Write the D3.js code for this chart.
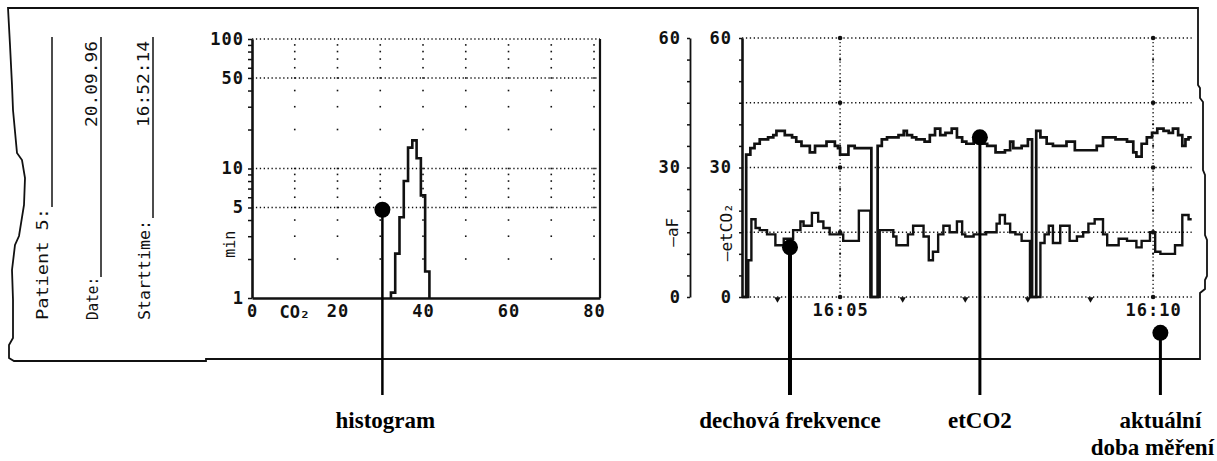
<!DOCTYPE html>
<html>
<head>
<meta charset="utf-8">
<script src="https://cdn.jsdelivr.net/npm/d3@7"></script>
<style>
  body { margin: 0; background: #fff; }
  svg { display: block; }
</style>
</head>
<body>
<script>
// histogram: CO2 bins (mmHg, bin centres) -> minutes (log axis)
var histBins    = [33, 34, 35, 36, 37, 38, 39, 40, 41];
var histMinutes = [1.1, 2.2, 4.2, 8, 14.5, 16.5, 12, 6.2, 1.6];
var histXTicks  = [0, 20, 40, 60, 80];
var histYTicks  = [1, 5, 10, 50, 100];
var histGridY   = [5, 10, 50, 100];
var histGridX   = [10, 20, 30, 40, 50, 60, 70, 80];

// trend: etCO2 (upper) and breathing frequency aF (lower), step values
var etco2Times  = ["16:03:26","16:03:30","16:03:34","16:03:38","16:03:43","16:03:51","16:03:56","16:03:59",
                   "16:04:07","16:04:14","16:04:18","16:04:23","16:04:31","16:04:36","16:04:47","16:04:55","16:04:58",
                   "16:05:00","16:05:08","16:05:14","16:05:30","16:05:36","16:05:40","16:05:45","16:05:56",
                   "16:06:01","16:06:04","16:06:09","16:06:13","16:06:21","16:06:26","16:06:31","16:06:36","16:06:41","16:06:47","16:06:52","16:06:57",
                   "16:07:01","16:07:08","16:07:16","16:07:21","16:07:29","16:07:38","16:07:43","16:07:46","16:07:54",
                   "16:08:00","16:08:04","16:08:08","16:08:12","16:08:18","16:08:24","16:08:37","16:08:45",
                   "16:09:06","16:09:12","16:09:24","16:09:35","16:09:41","16:09:44","16:09:49","16:09:54","16:09:59",
                   "16:10:04","16:10:10","16:10:15","16:10:19","16:10:24","16:10:28","16:10:31","16:10:34"];
var etco2Values = [0, 33, 34.5, 35.5, 36.5, 37, 37.5, 38.5,
                   37.5, 37, 36, 35, 33.5, 35, 36, 35, 34.5,
                   33, 35, 34.5, 0, 35, 36.5, 37, 37.5,
                   38.5, 37.5, 37, 36.5, 36, 37.5, 39, 37.5, 38, 39, 37, 36,
                   35.5, 37, 35.5, 35, 33.5, 34, 36, 34.5, 35,
                   36.5, 0, 38.5, 37, 35.5, 35, 36, 34,
                   35, 37, 36.5, 36, 33.5, 32.5, 35.5, 37, 38,
                   39, 38.5, 38, 39, 37.5, 35, 36.5, 37];

var afTimes  = ["16:03:26","16:03:32","16:03:35","16:03:39","16:03:43","16:03:50","16:03:58",
                "16:04:06","16:04:15","16:04:22","16:04:25","16:04:33","16:04:39","16:04:44","16:04:50",
                "16:05:03","16:05:18","16:05:29","16:05:38","16:05:51","16:05:54",
                "16:06:05","16:06:10","16:06:20","16:06:25","16:06:29","16:06:34","16:06:39","16:06:45","16:06:52","16:06:57",
                "16:07:00","16:07:08","16:07:20","16:07:30","16:07:33","16:07:38","16:07:43","16:07:48","16:07:54",
                "16:08:02","16:08:12","16:08:16","16:08:20","16:08:24","16:08:31","16:08:40","16:08:47","16:08:53","16:08:58",
                "16:09:04","16:09:12","16:09:16","16:09:27","16:09:35","16:09:44","16:09:49","16:09:57",
                "16:10:02","16:10:07","16:10:21","16:10:28","16:10:34"];
var afValues = [0, 8.5, 18, 16, 15.5, 14.5, 12,
                13.5, 15.5, 17.5, 16.5, 19.5, 17.5, 16, 14.5,
                13, 20, 0, 15.5, 14, 12,
                14.5, 16.5, 14, 8.5, 10.5, 14.5, 16.5, 15, 17.5, 14.5,
                14, 14.5, 15, 17, 19, 17, 15, 14.5, 13,
                0, 12.5, 14.5, 16.5, 12.5, 16.5, 13, 14, 15, 17,
                18, 14.5, 12, 13.5, 13, 11.5, 13, 15,
                10.5, 10, 12, 19, 18];

var trendStart   = "16:03:26";
var trendEnd     = "16:10:37";
var trendYTicks  = [0, 30, 60];
var trendGridY   = [0, 15, 30, 45, 60];
var timeLabels   = ["16:05", "16:10"];
var minuteMarks  = ["16:04", "16:06", "16:07", "16:08", "16:09"];

// header strip
var headerLabels = ["Patient 5:", "Date:", "Starttime:"];
var headerValues = ["", "20.09.96", "16:52:14"];

// callouts
var noteLabels = [["histogram"], ["dechová frekvence"], ["etCO2"], ["aktuální", "doba měření"]];

var W = 1217, H = 461;
var mono = "'DejaVu Sans Mono', monospace";
var ink = "#111";

var svg = d3.select("body").append("svg").attr("width", W).attr("height", H);

// ---- paper outline ----
var paper = "M8,8 L1198,8 L1198,85 L1200,88 L1200,98 L1203,102 L1203,170 L1205,175 L1205,235 L1207,240 L1207,276 " +
            "L1205,280 L1205,289 L1200,293 L1200,359 L206,359 L206,361 L14,361 L9,358 L9,345 L13,338 L13,300 L12,270 " +
            "L15,245 L19,236 L24,205 L25,178 L22,160 L17,153 L13,110 L12,85 L10,45 L8,8 Z";
svg.append("path").attr("d", paper).attr("fill", "none").attr("stroke", ink).attr("stroke-width", 1.8);

// ---- header strip (rotated) ----
var headerX = [48, 98, 150];
var lineX = [52, 101, 153];
var lineTop = 37, lineBottom = [207, 277, 218];
headerLabels.forEach(function (t, i) {
    svg.append("text")
        .attr("transform", "translate(" + headerX[i] + ",320) rotate(-90)")
        .attr("font-family", mono).attr("font-size", 16).attr("fill", ink)
        .attr("textLength", [112, 43, 100][i]).attr("lengthAdjust", "spacingAndGlyphs")
        .text(t);
    svg.append("line")
        .attr("x1", lineX[i]).attr("x2", lineX[i])
        .attr("y1", lineTop).attr("y2", lineBottom[i])
        .attr("stroke", ink).attr("stroke-width", 1.5);
    if (headerValues[i]) {
        svg.append("text")
            .attr("transform", "translate(" + (headerX[i] - 1) + ",127) rotate(-90)")
            .attr("font-family", mono).attr("font-size", 15).attr("fill", ink)
            .attr("textLength", 86).attr("lengthAdjust", "spacingAndGlyphs")
            .text(headerValues[i]);
    }
});

function dotted(sel) {
    return sel.attr("stroke", ink).attr("stroke-width", 1.3).attr("stroke-dasharray", "1.3 2.6");
}
function styleAxis(g, width) {
    g.select(".domain").attr("stroke", ink).attr("stroke-width", width);
    g.selectAll(".tick line").attr("stroke", ink).attr("stroke-width", 1.5);
    g.selectAll("text").attr("font-family", mono).attr("font-size", 17).attr("font-weight", "bold")
        .attr("letter-spacing", 1).attr("fill", ink);
}

// ---- histogram ----
var xH = d3.scaleLinear().domain([0, 81.4]).range([252, 600]);
var yH = d3.scaleLog().domain([1, 100]).range([298, 39]);

var hist = svg.append("g");

histGridY.forEach(function (v) {
    dotted(hist.append("line").attr("x1", xH(0)).attr("x2", xH(81.4)).attr("y1", yH(v)).attr("y2", yH(v)));
});
// vertical grid is printed as dots at the minor log positions
var dots = [];
histGridX.forEach(function (x) {
    yH.ticks().forEach(function (v) { if (v > 1 && v < 100) dots.push([x, v]); });
});
hist.selectAll("rect.gdot").data(dots).enter().append("rect")
    .attr("class", "gdot")
    .attr("x", function (d) { return xH(d[0]) - 0.8; })
    .attr("y", function (d) { return yH(d[1]) - 0.8; })
    .attr("width", 1.6).attr("height", 1.6).attr("fill", ink);

hist.append("line").attr("x1", xH(81.4)).attr("x2", xH(81.4)).attr("y1", yH(100)).attr("y2", yH(1))
    .attr("stroke", ink).attr("stroke-width", 2.2);

var histPts = [[histBins[0] - 0.5, 1]]
    .concat(histBins.map(function (b, i) { return [b - 0.5, histMinutes[i]]; }))
    .concat([[histBins[histBins.length - 1] + 0.5, 1]]);
hist.append("path")
    .datum(histPts)
    .attr("fill", "none").attr("stroke", ink).attr("stroke-width", 2.6)
    .attr("d", d3.line().curve(d3.curveStepAfter)
        .x(function (d) { return xH(d[0]); })
        .y(function (d) { return yH(d[1]); }));

var hyAxis = hist.append("g").attr("transform", "translate(" + xH(0) + ",0)")
    .call(d3.axisLeft(yH).tickValues(yH.ticks()).tickSize(4).tickSizeOuter(0).tickPadding(4)
        .tickFormat(function (d) { return histYTicks.indexOf(d) >= 0 ? d : ""; }));
styleAxis(hyAxis, 2.6);

var hxAxis = hist.append("g").attr("transform", "translate(0," + yH(1) + ")")
    .call(d3.axisBottom(xH).tickValues(histXTicks).tickSize(0).tickSizeOuter(0).tickPadding(7));
styleAxis(hxAxis, 2.4);

hist.append("text").attr("x", xH(10)).attr("y", 318).attr("text-anchor", "middle")
    .attr("font-family", mono).attr("font-size", 17).attr("font-weight", "bold").attr("fill", ink).text("CO₂");
hist.append("text").attr("transform", "translate(235," + yH(2.6) + ") rotate(-90)")
    .attr("text-anchor", "middle").attr("font-family", mono).attr("font-size", 15).attr("fill", ink)
    .text("min");

// ---- trend chart ----
var parseT = d3.timeParse("%H:%M:%S");
var parseM = d3.timeParse("%H:%M");
var xT = d3.scaleTime().domain([parseT(trendStart), parseT(trendEnd)]).range([742, 1191.7]);
var yT = d3.scaleLinear().domain([0, 60]).range([297, 38]);

var trend = svg.append("g");

trendGridY.forEach(function (v) {
    dotted(trend.append("line").attr("x1", xT.range()[0]).attr("x2", xT.range()[1]).attr("y1", yT(v)).attr("y2", yT(v)));
});
timeLabels.forEach(function (t) {
    var x = xT(parseM(t));
    dotted(trend.append("line").attr("x1", x).attr("x2", x).attr("y1", yT(60)).attr("y2", yT(0)));
    d3.range(5, 60, 5).forEach(function (v) {
        trend.append("circle").attr("cx", x).attr("cy", yT(v)).attr("r", 1.1).attr("fill", ink);
    });
    trendGridY.forEach(function (v) {
        trend.append("circle").attr("cx", x).attr("cy", yT(v)).attr("r", 2.3).attr("fill", ink);
    });
});

trend.selectAll("path.mark").data(minuteMarks).enter().append("path")
    .attr("class", "mark")
    .attr("d", d3.symbol().type(d3.symbolTriangle).size(18))
    .attr("transform", function (d) { return "translate(" + xT(parseM(d)) + "," + (yT(0) + 2) + ") rotate(180)"; })
    .attr("fill", ink);

function stepSeries(times, values) {
    var pts = times.map(function (t, i) { return [parseT(t), values[i]]; });
    pts.push([parseT(trendEnd), values[values.length - 1]]);
    return pts;
}
var stepLine = d3.line().curve(d3.curveStepAfter)
    .x(function (d) { return xT(d[0]); })
    .y(function (d) { return yT(d[1]); });

trend.append("path").datum(stepSeries(afTimes, afValues))
    .attr("fill", "none").attr("stroke", ink).attr("stroke-width", 2.4).attr("d", stepLine);
trend.append("path").datum(stepSeries(etco2Times, etco2Values))
    .attr("fill", "none").attr("stroke", ink).attr("stroke-width", 2.7).attr("d", stepLine);

var outerAxis = trend.append("g").attr("transform", "translate(690,0)")
    .call(d3.axisLeft(yT).tickValues(d3.range(0, 61, 5)).tickSize(3).tickSizeOuter(0).tickPadding(6)
        .tickFormat(function (d) { return trendYTicks.indexOf(d) >= 0 ? d : ""; }));
styleAxis(outerAxis, 1.8);

var innerAxis = trend.append("g").attr("transform", "translate(" + xT.range()[0] + ",0)")
    .call(d3.axisLeft(yT).tickValues(d3.range(0, 61, 5)).tickSize(3).tickSizeOuter(0).tickPadding(7)
        .tickFormat(function (d) { return trendYTicks.indexOf(d) >= 0 ? d : ""; }));
styleAxis(innerAxis, 2.6);

var timeAxis = trend.append("g").attr("transform", "translate(0," + yT(0) + ")")
    .call(d3.axisBottom(xT).tickValues(timeLabels.map(parseM)).tickFormat(d3.timeFormat("%H:%M"))
        .tickSize(0).tickPadding(7));
timeAxis.select(".domain").remove();
styleAxis(timeAxis, 0);

trend.append("text").attr("transform", "translate(678," + yT(15) + ") rotate(-90)")
    .attr("text-anchor", "middle").attr("font-family", mono).attr("font-size", 16).attr("fill", ink)
    .text("—aF");
trend.append("text").attr("transform", "translate(732," + yT(15) + ") rotate(-90)")
    .attr("text-anchor", "middle").attr("font-family", mono).attr("font-size", 16).attr("fill", ink)
    .text("—etCO₂");

// ---- callouts ----
var anchors = [
    [xH(30.5), yH(4.8)],
    [xT(parseT("16:04:12")), yT(11.5)],
    [xT(parseT("16:07:14")), yT(37)],
    [xT(parseT("16:10:07")), yT(-8.3)]
];
var leaderWidth = [2.5, 4, 3, 3];
var labelShift = [[3, 0], [0], [0], [0, -8]];
anchors.forEach(function (a, i) {
    svg.append("line").attr("x1", a[0]).attr("x2", a[0]).attr("y1", a[1]).attr("y2", 395)
        .attr("stroke", "#000").attr("stroke-width", leaderWidth[i]);
    svg.append("circle").attr("cx", a[0]).attr("cy", a[1]).attr("r", 8).attr("fill", "#000");
    noteLabels[i].forEach(function (t, j) {
        svg.append("text")
            .attr("x", a[0] + labelShift[i][j]).attr("y", 428 + j * 27)
            .attr("text-anchor", "middle")
            .attr("font-family", "'Liberation Serif', 'Times New Roman', serif")
            .attr("font-weight", "bold").attr("font-size", 23).attr("fill", "#000")
            .text(t);
    });
});
</script>
</body>
</html>
